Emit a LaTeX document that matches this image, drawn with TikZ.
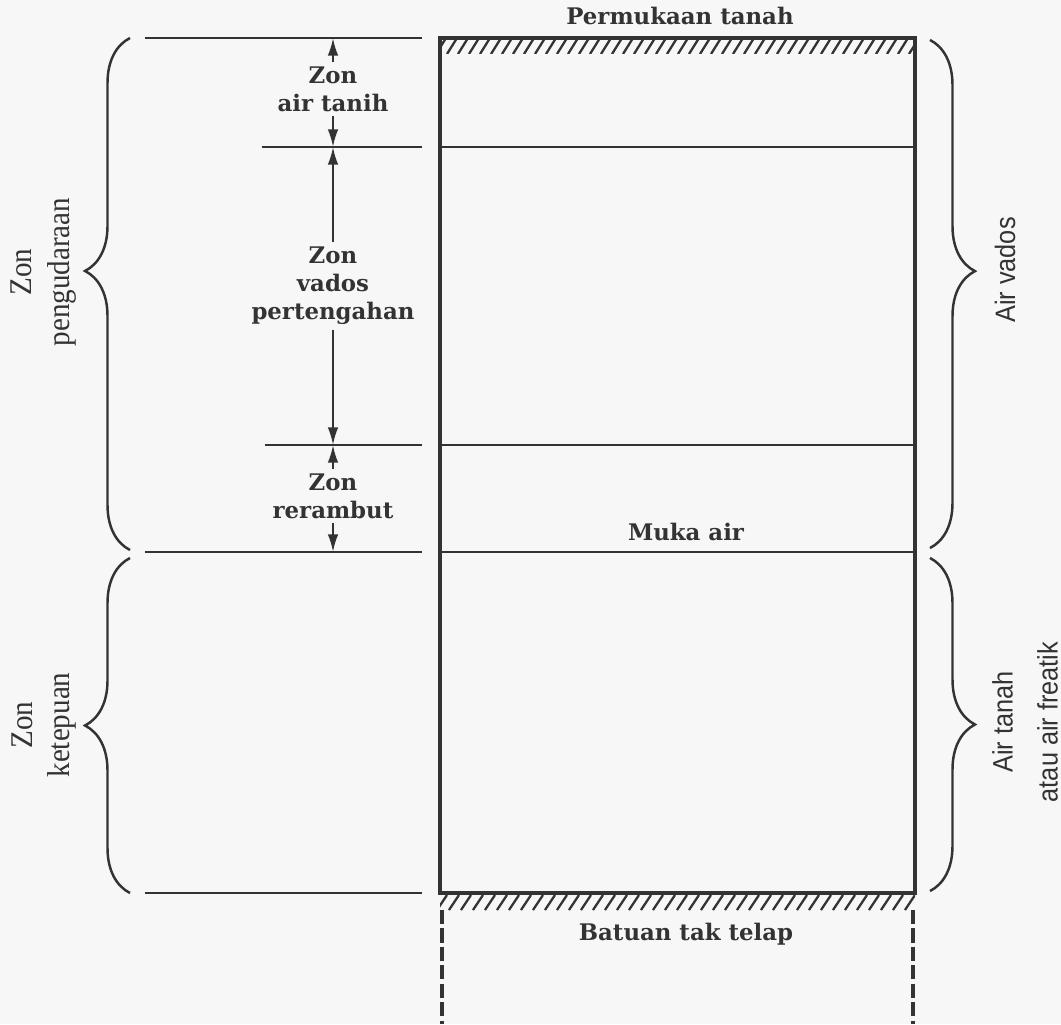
\documentclass[tikz,border=0pt]{standalone}
\usepackage{fontspec}
\usetikzlibrary{arrows.meta}
\usetikzlibrary{decorations.pathreplacing}
\usepackage{xcolor}

\newfontfamily\zonefont{DejaVu Serif}
\newfontfamily\sidefont[FakeStretch=0.92]{Liberation Serif}
\newfontfamily\airfont[FakeStretch=0.9]{Liberation Sans}
\definecolor{ink}{HTML}{333333}
\definecolor{paper}{HTML}{F7F7F7}

\tikzset{
  zonelabel/.style = {font=\zonefont\bfseries\fontsize{13}{16}\selectfont, align=center, text=ink, inner sep=2.5pt},
  sidelabel/.style = {font=\sidefont\fontsize{18}{21.6}\selectfont, align=center, text=ink, rotate=90},
  airlabel/.style  = {font=\airfont\fontsize{16}{25.6}\selectfont, align=center, text=ink, rotate=90},
  dimarrow/.style  = {-{Latex[length=10pt,width=6pt]}, line width=1.2pt, draw=ink},
  level/.style     = {line width=1pt, draw=ink},
  inner/.style     = {line width=1.2pt, draw=ink},
  wall/.style      = {line width=2.4pt, draw=ink},
  dashwall/.style  = {line width=1.8pt, draw=ink, dash pattern=on 8pt off 2.5pt},
  hatchline/.style = {line width=1.3pt, draw=ink},
  curly/.style     = {decorate, decoration={brace, amplitude=0.9cm, aspect=#1}, line width=1.4pt, draw=ink},
}

\begin{document}
\begin{tikzpicture}[x=0.02cm, y=-0.02cm]

    \fill[paper] (0,0) rectangle (1061,1024);
    \useasboundingbox (0,0) rectangle (1061,1024);

    % hatched ground surface and bedrock
    \begin{scope}
    \clip (440,38) rectangle (915,54);
    \foreach \x in {425,436,...,925}
    \draw[hatchline] (\x,54) -- ++(10,-16);
    \end{scope}

    \begin{scope}
    \clip (440,895) rectangle (915,910);
    \foreach \x in {425,437,...,925}
    \draw[hatchline] (\x,910) -- ++(10,-15);
    \end{scope}

    % soil column
    \draw[wall] (440,38) rectangle (915,893);
    \draw[inner] (440,147) -- (915,147);
    \draw[inner] (440,445) -- (915,445);
    \draw[inner] (440,552) -- (915,552);

    \draw[dashwall] (442,910) -- (442,1024);
    \draw[dashwall] (913,910) -- (913,1024);

    % levels on the left
    \draw[level] (145,38) -- (422,38);
    \draw[level] (262,147) -- (422,147);
    \draw[level] (265,445) -- (422,445);
    \draw[level] (145,552) -- (422,552);
    \draw[level] (145,893) -- (422,893);

    \coordinate (t0) at (333,38);
    \coordinate (t1) at (333,147);
    \coordinate (t2) at (333,445);
    \coordinate (t3) at (333,552);

    \node[zonelabel] (ptanah) at (680,16) {Permukaan tanah};
    \node[zonelabel] (zat) at (333,89) {Zon\\air tanih};
    \node[zonelabel] (zvp) at (333,286) {Zon\\vados\\pertengahan};
    \node[zonelabel] (zrr) at (333,496) {Zon\\rerambut};
    \node[zonelabel] (muka) at (686,532) {Muka air};
    \node[zonelabel] (batu) at (686,934) {Batuan tak telap};

    \draw[dimarrow] (zat.north) -- (t0);
    \draw[dimarrow] (zat.south) -- (t1);
    \draw[dimarrow] (zvp.north) -- (t1);
    \draw[dimarrow] (zvp.south) -- (t2);
    \draw[dimarrow] (zrr.north) -- (t2);
    \draw[dimarrow] (zrr.south) -- (t3);

    % braces
    \draw[curly=0.545] (130,550) -- (130,38);
    \draw[curly=0.5] (130,893) -- (130,558);
    \draw[curly=0.455] (930,40) -- (930,548);
    \draw[curly=0.5] (930,558) -- (930,891);

    \node[sidelabel] (zpg) at (44,272) {Zon\\pengudaraan};
    \node[sidelabel] (zkt) at (44,725) {Zon\\ketepuan};
    \node[airlabel] (avd) at (1005,270) {Air vados};
    \node[airlabel] (atn) at (1025,722) {Air tanah\\atau air freatik};

\end{tikzpicture}
\end{document}
